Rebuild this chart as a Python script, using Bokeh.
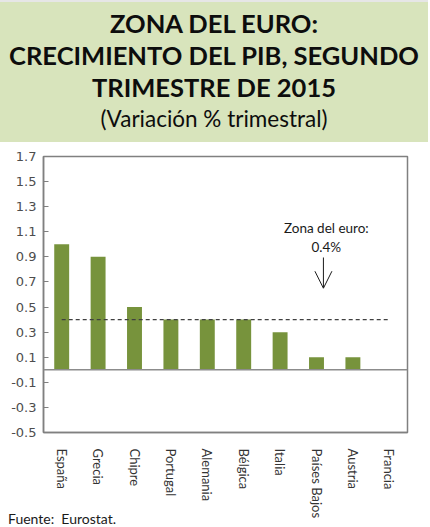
from bokeh.plotting import figure
from bokeh.models import (Div, Span, Label, Arrow, OpenHead, FixedTicker, FactorRange, Range1d)
from bokeh.layouts import column
from bokeh.embed import file_html
from bokeh.resources import INLINE

# ---- data ----
countries = ["España", "Grecia", "Chipre", "Portugal", "Alemania", "Bélgica",
             "Italia", "Países Bajos", "Austria", "Francia"]
growth = [1.0, 0.9, 0.5, 0.4, 0.4, 0.4, 0.3, 0.1, 0.1, 0.0]
euro_area = 0.4
y_ticks = [-0.5, -0.3, -0.1, 0.1, 0.3, 0.5, 0.7, 0.9, 1.1, 1.3, 1.5, 1.7]
y_labels = ["-0.5", "-0.3", "-0.1", "0.1", "0.3", "0.5", "0.7", "0.9", "1.1", "1.3", "1.5", "1.7"]
title_lines = ["ZONA DEL EURO:", "CRECIMIENTO DEL PIB, SEGUNDO", "TRIMESTRE DE 2015"]
subtitle = "(Variación % trimestral)"
note_lines = ["Zona del euro:", "0.4%"]
source = "Fuente:&nbsp; Eurostat."

# ---- title block ----
title_html = (
    '<div style="width:428px;height:142px;background:#d8e4bc;text-align:center;'
    'font-family:Lato;color:#0d0d0d;box-sizing:border-box;padding-top:5px;'
    'border-top:2px solid #e6e6e6;">'
    + "".join('<div style="font-weight:bold;font-size:25.5px;line-height:32px;white-space:nowrap;">%s</div>' % t
              for t in title_lines)
    + '<div style="font-size:22.5px;line-height:32px;">%s</div>' % subtitle
    + '</div>'
)
title_div = Div(text=title_html, width=428, height=142, margin=(0, 0, 0, 0))

# ---- chart ----
p = figure(x_range=FactorRange(*countries), y_range=Range1d(-0.5, 1.7),
           width=428, height=385, output_backend="svg", toolbar_location=None,
           min_border_left=43, min_border_right=21, min_border_top=14, min_border_bottom=95,
           margin=(0, 0, 0, 0))

p.vbar(x=countries, top=growth, width=0.41, fill_color="#77933c",
       line_color=None)

# euro area average line
p.line(x=[countries[0], countries[-1]], y=[euro_area, euro_area],
       line_color="#404040", line_width=1.2, line_dash="4 3")

# zero line
p.add_layout(Span(location=0, dimension="width", line_color="#8c8c8c", line_width=1.5))

# annotation
p.add_layout(Label(x=7.77, y=1.127, text=note_lines[0], text_align="center", text_baseline="middle",
                   text_font="Lato", text_font_size="13.5px", text_color="#1a1a1a"))
p.add_layout(Label(x=7.77, y=0.975, text=note_lines[1], text_align="center", text_baseline="middle",
                   text_font="Lato", text_font_size="13.5px", text_color="#1a1a1a"))
p.add_layout(Arrow(x_start=7.69, y_start=0.895, x_end=7.69, y_end=0.65,
                   line_color="#1a1a1a", line_width=1,
                   end=OpenHead(size=17, line_color="#1a1a1a", line_width=1)))

# axes / styling
p.xgrid.visible = False
p.ygrid.visible = False
p.outline_line_color = "#808080"
p.outline_line_width = 1.5

p.yaxis.ticker = FixedTicker(ticks=y_ticks)
p.yaxis.major_label_overrides = {t: l for t, l in zip(y_ticks, y_labels)}
p.yaxis.minor_tick_line_color = None
p.yaxis.major_tick_in = 5
p.yaxis.major_tick_out = 0
p.yaxis.major_tick_line_color = "#808080"
p.yaxis.axis_line_color = "#808080"
p.yaxis.axis_line_width = 1.5
p.yaxis.major_label_text_font = "DejaVu Sans"
p.yaxis.major_label_text_font_size = "13px"
p.yaxis.major_label_text_color = "#4d4d4d"
p.yaxis.major_label_standoff = 7

p.xaxis.major_tick_line_color = None
p.xaxis.minor_tick_line_color = None
p.xaxis.axis_line_color = "#808080"
p.xaxis.axis_line_width = 1.5
p.xaxis.major_label_orientation = "vertical"
p.xaxis.major_label_text_font = "Lato"
p.xaxis.major_label_text_font_size = "13px"
p.xaxis.major_label_text_color = "#333333"
p.xaxis.major_label_standoff = 10

footer = Div(text='<div style="font-family:Lato;font-size:14px;color:#1a1a1a;white-space:nowrap;">%s</div>' % source,
             width=200, height=16, margin=(-18, 0, 0, 8))

layout = column(title_div, p, footer, spacing=0)
open("out.html", "w").write(file_html(layout, INLINE))
